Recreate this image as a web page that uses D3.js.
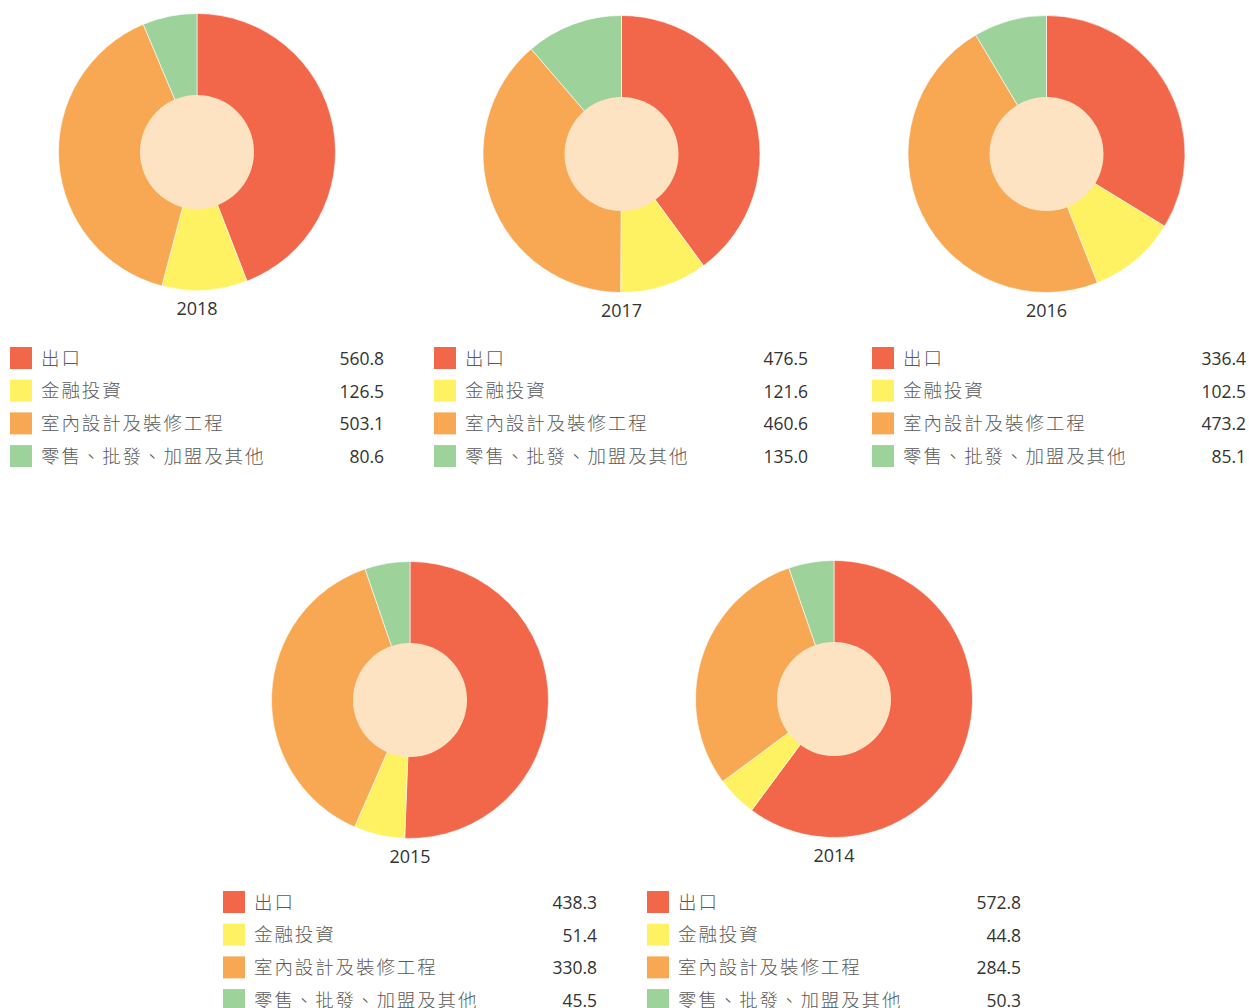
<!DOCTYPE html>
<html><head><meta charset="utf-8">
<script src="https://cdn.jsdelivr.net/npm/d3@7"></script>
<style>body{margin:0;background:#fff}svg{display:block}</style>
</head><body>
<svg id="c" width="1249" height="1008"></svg>
<script>
const categories = ["出口", "金融投資", "室內設計及裝修工程", "零售、批發、加盟及其他"];
const years = ["2018", "2017", "2016", "2015", "2014"];
const values2018 = [560.8, 126.5, 503.1, 80.6];
const values2017 = [476.5, 121.6, 460.6, 135.0];
const values2016 = [336.4, 102.5, 473.2, 85.1];
const values2015 = [438.3, 51.4, 330.8, 45.5];
const values2014 = [572.8, 44.8, 284.5, 50.3];
const seriesValues = [values2018, values2017, values2016, values2015, values2014];
const colors = ["#F26749", "#FFF262", "#F8A853", "#9DD29B"];

// layout per panel
const panels = [
  {cx:197, cy:152, ly:308, lx:10, lr:384, ry:358},
  {cx:621.5, cy:154, ly:310, lx:434, lr:808, ry:358},
  {cx:1046.5, cy:154, ly:310, lx:872, lr:1246, ry:358},
  {cx:410, cy:700, ly:856, lx:223, lr:597, ry:902},
  {cx:834, cy:699, ly:855, lx:647, lr:1021, ry:902}
];

const svg = d3.select("#c");
const pie = d3.pie().sort(null).value(d => d);
const arc = d3.arc().innerRadius(56).outerRadius(138.5);
const font = "'Open Sans', 'Noto Sans', sans-serif";
const cjk = "'Noto Sans CJK TC', 'Noto Sans CJK SC', sans-serif";

years.forEach((yr, i) => {
  const p = panels[i];
  const vals = seriesValues[i];
  const g = svg.append("g").attr("transform", `translate(${p.cx},${p.cy})`);
  g.selectAll("path").data(pie(vals)).join("path")
    .attr("d", arc)
    .attr("fill", (d, j) => colors[j])
    .attr("stroke", "#fff").attr("stroke-width", 0.6);
  g.append("circle").attr("r", 57).attr("fill", "#FDE3C1");
  svg.append("text").attr("x", p.cx).attr("y", p.ly)
    .attr("text-anchor", "middle").attr("dominant-baseline", "central")
    .attr("font-family", font).attr("font-size", 18).attr("fill", "#333").text(yr);
  const rowStep = 32.7;
  categories.forEach((c, j) => {
    const y = p.ry + j * rowStep;
    svg.append("rect").attr("x", p.lx).attr("y", y - 11).attr("width", 22).attr("height", 22).attr("fill", colors[j]);
    svg.append("text").attr("x", p.lx + 31).attr("y", y - 1.5)
      .attr("dominant-baseline", "central")
      .attr("font-family", cjk).attr("font-size", 18.5).attr("font-weight", 300)
      .attr("letter-spacing", 1.9).attr("fill", "#5a5a5a").text(c);
    svg.append("text").attr("x", p.lr).attr("y", y)
      .attr("text-anchor", "end").attr("dominant-baseline", "central")
      .attr("font-family", font).attr("font-size", 17.5).attr("fill", "#333")
      .text(d3.format(".1f")(vals[j]));
  });
});
</script>
</body></html>
